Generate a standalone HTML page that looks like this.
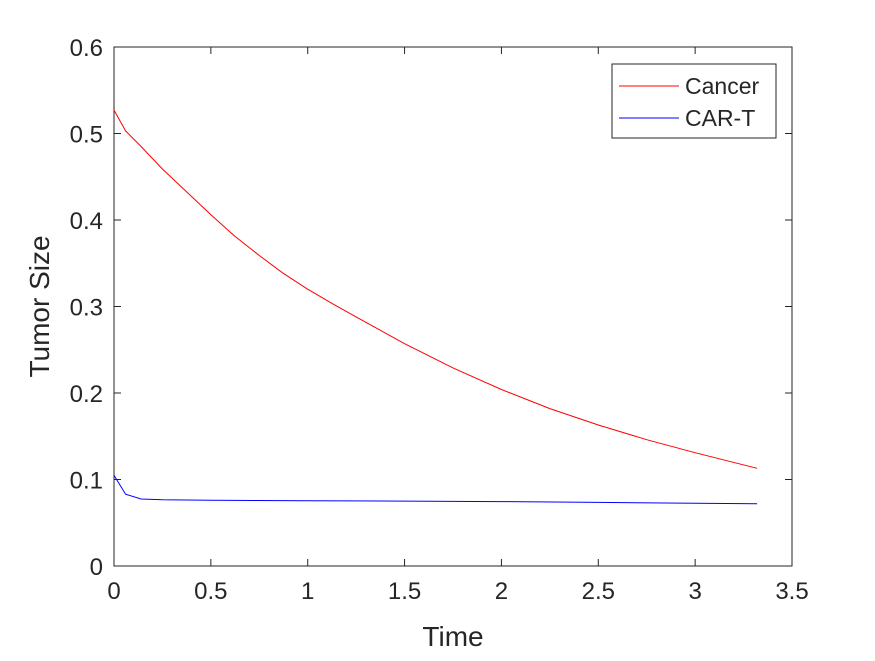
<!DOCTYPE html>
<html><head><meta charset="utf-8"><style>
body{margin:0;background:#fff;}
svg text{font-family:"Liberation Sans",Arial,sans-serif;fill:#262626;}
</style></head><body>
<svg width="875" height="656" viewBox="0 0 875 656">
<rect width="875" height="656" fill="#fff"/>
<g id="plot"></g>
</svg>
<script>
const tCancer=[0,0.06,0.14,0.25,0.5,0.62,0.75,0.87,1,1.13,1.25,1.5,1.75,2,2.25,2.5,2.75,3,3.32];
const vCancer=[0.527,0.503,0.485,0.459,0.406,0.382,0.359,0.339,0.320,0.303,0.288,0.257,0.229,0.204,0.182,0.163,0.146,0.131,0.113];
const tCart=[0,0.06,0.14,0.25,0.5,1,1.5,2,2.5,3,3.32];
const vCart=[0.105,0.083,0.0775,0.0765,0.076,0.0755,0.075,0.0745,0.0735,0.0725,0.072];
const xTicks=[0,0.5,1,1.5,2,2.5,3,3.5];
const yTicks=[0,0.1,0.2,0.3,0.4,0.5,0.6];
const X0=114,X1=792,Y0=566,Y1=47;
const sx=v=>X0+(v/3.5)*(X1-X0);
const sy=v=>Y0-(v/0.6)*(Y0-Y1);
const NS="http://www.w3.org/2000/svg";
const g=document.getElementById('plot');
function mk(tag,attrs,txt){const e=document.createElementNS(NS,tag);for(const k in attrs)e.setAttribute(k,attrs[k]);if(txt!==undefined)e.textContent=txt;g.appendChild(e);return e;}
let frame=mk('rect',{x:X0,y:Y1,width:X1-X0,height:Y0-Y1,fill:'none',stroke:'#262626','stroke-width':1});


xTicks.forEach(v=>{
 let l=mk('path',{d:`M${sx(v)},${Y0}v-7M${sx(v)},${Y1}v7`,stroke:'#262626'});
 
 
 let t=mk('text',{x:sx(v),y:Y0+33,'text-anchor':'middle','font-size':24},String(v));
 
 
});
yTicks.forEach(v=>{
 let l=mk('path',{d:`M${X0},${sy(v)}h7M${X1},${sy(v)}h-7`,stroke:'#262626'});
 
 
 let t=mk('text',{x:X0-11,y:sy(v)+9,'text-anchor':'end','font-size':24},String(v));
 
 
});
let xl=mk('text',{x:(X0+X1)/2,y:646,'text-anchor':'middle','font-size':28},'Time');


let yl=mk('text',{x:0,y:0,'text-anchor':'middle','font-size':28,transform:`translate(49,${(Y0+Y1)/2}) rotate(-90)`},'Tumor Size');


function line(ts,vs,c,name){
 let d=ts.map((t,i)=>(i?'L':'M')+sx(t).toFixed(1)+','+sy(vs[i]).toFixed(1)).join('');
 let p=mk('path',{d,fill:'none',stroke:c,'stroke-width':1});
 
 
}
line(tCancer,vCancer,'#ff0000','cancer-line');
line(tCart,vCart,'#0000ff','car-t-line');
let lb=mk('rect',{x:612,y:64,width:164,height:74,fill:'#fff',stroke:'#262626'});


let l1=mk('path',{d:'M619,86h60',stroke:'#ff0000'});


let t1=mk('text',{x:685,y:94,'font-size':23},'Cancer');


let l2=mk('path',{d:'M619,118h60',stroke:'#0000ff'});


let t2=mk('text',{x:685,y:126,'font-size':23},'CAR-T');


</script>
</body></html>
